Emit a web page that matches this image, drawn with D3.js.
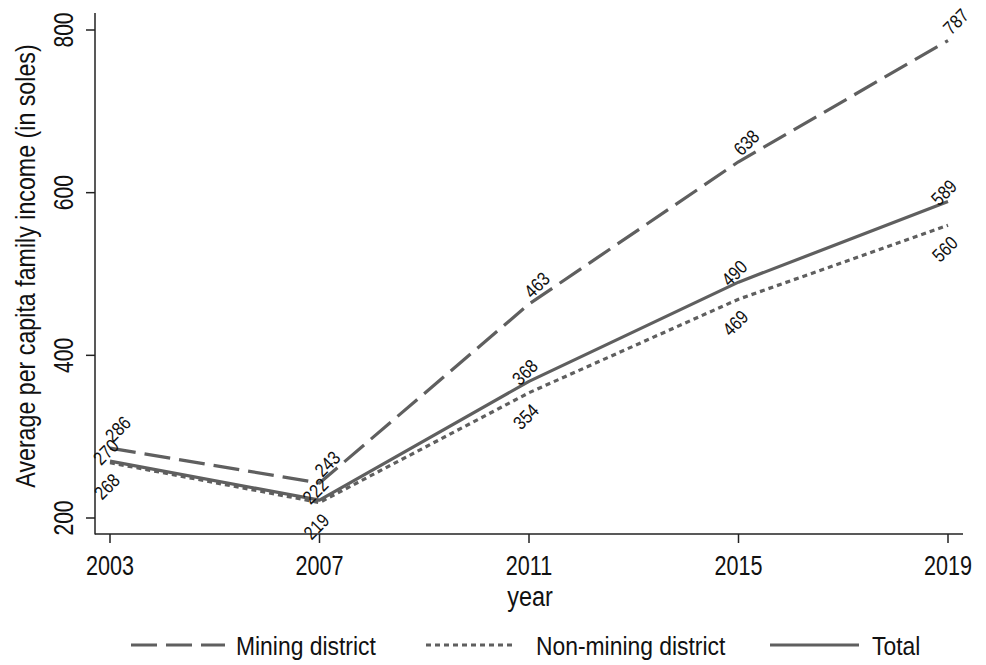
<!DOCTYPE html>
<html>
<head>
<meta charset="utf-8">
<script src="https://cdn.jsdelivr.net/npm/d3@7"></script>
<style>
  html, body { margin: 0; padding: 0; background: #fff; }
  svg { display: block; }
  text { font-family: "Liberation Sans Narrow", "Arial Narrow", "Liberation Sans", Arial, sans-serif; fill: #111; }
</style>
</head>
<body>
<svg id="chart" width="986" height="665"></svg>
<script>
// Survey years
const years = [2003, 2007, 2011, 2015, 2019];
// Average per capita family income (soles) by district type
const mining = [286, 243, 463, 638, 787];
const nonMining = [268, 219, 354, 469, 560];
const total = [270, 222, 368, 490, 589];
// Axis ticks
const yTicks = [200, 400, 600, 800];

const series = [
  { name: "Mining district", values: mining, dash: "26,9", dx: 8, dy: -19 },
  { name: "Non-mining district", values: nonMining, dash: "5,4", dx: -3, dy: 24 },
  { name: "Total", values: total, dash: null, dx: -4, dy: -9 }
];

const svg = d3.select("#chart");
const lineColor = "#5f5f5f";

// Condensed text: horizontal squeeze applied along the text direction
function label(parent, tx, ty, angle, str, size, squeeze, anchor, baseline) {
  const t = parent.append("text")
    .attr("transform", `translate(${tx},${ty}) rotate(${angle}) scale(${squeeze},1)`)
    .attr("text-anchor", anchor || "start")
    .attr("font-size", size)
    .text(str);
  if (baseline) t.attr("dominant-baseline", baseline);
  return t;
}

const x = d3.scaleLinear().domain([2003, 2019]).range([110, 948]);
const y = d3.scaleLinear().domain([200, 800]).range([518, 30]);

// Axis frames
const axisLeftX = 95, axisBottomY = 534;
svg.append("line").attr("x1", axisLeftX).attr("x2", axisLeftX)
  .attr("y1", 13).attr("y2", axisBottomY + 0.5)
  .attr("stroke", "#222").attr("stroke-width", 1.5);
svg.append("line").attr("x1", axisLeftX).attr("x2", 963)
  .attr("y1", axisBottomY).attr("y2", axisBottomY)
  .attr("stroke", "#222").attr("stroke-width", 1.5);

// Y ticks and labels
const yg = svg.append("g");
yTicks.forEach(t => {
  yg.append("line").attr("x1", axisLeftX - 9).attr("x2", axisLeftX)
    .attr("y1", y(t)).attr("y2", y(t)).attr("stroke", "#222").attr("stroke-width", 1.5);
  label(yg, axisLeftX - 22, y(t), -90, t, 27, 0.78, "middle");
});

// X ticks and labels
const xg = svg.append("g");
years.forEach(t => {
  xg.append("line").attr("x1", x(t)).attr("x2", x(t))
    .attr("y1", axisBottomY).attr("y2", axisBottomY + 9).attr("stroke", "#222").attr("stroke-width", 1.5);
  label(xg, x(t), axisBottomY + 41, 0, t, 27, 0.8, "middle");
});

// Axis titles
label(svg, 530, 606, 0, "year", 27, 0.87, "middle");
label(svg, 35, 266, -90, "Average per capita family income (in soles)", 27, 0.86, "middle");

// Lines
const line = d3.line().x((d, i) => x(years[i])).y(d => y(d));
series.forEach(s => {
  svg.append("path")
    .datum(s.values)
    .attr("d", line)
    .attr("fill", "none")
    .attr("stroke", lineColor)
    .attr("stroke-width", 3.2)
    .attr("stroke-dasharray", s.dash)
    .attr("stroke-linejoin", "round");
});

// Value labels, rotated 45 degrees
series.forEach(s => {
  s.values.forEach((v, i) => {
    label(svg, x(years[i]) + s.dx, y(v) + s.dy, -45, v, 19, 0.85, "middle", "central");
  });
});

// Legend
const legendY = 645;
const legendItems = [
  { s: series[0], x0: 131, x1: 225, tx: 236 },
  { s: series[1], x0: 426, x1: 514, tx: 536 },
  { s: series[2], x0: 770, x1: 859, tx: 872 }
];
legendItems.forEach(it => {
  svg.append("line")
    .attr("x1", it.x0).attr("x2", it.x1)
    .attr("y1", legendY).attr("y2", legendY)
    .attr("stroke", lineColor).attr("stroke-width", 3.2)
    .attr("stroke-dasharray", it.s.dash);
  label(svg, it.tx, legendY + 10, 0, it.s.name, 26, 0.88);
});
</script>
</body>
</html>
